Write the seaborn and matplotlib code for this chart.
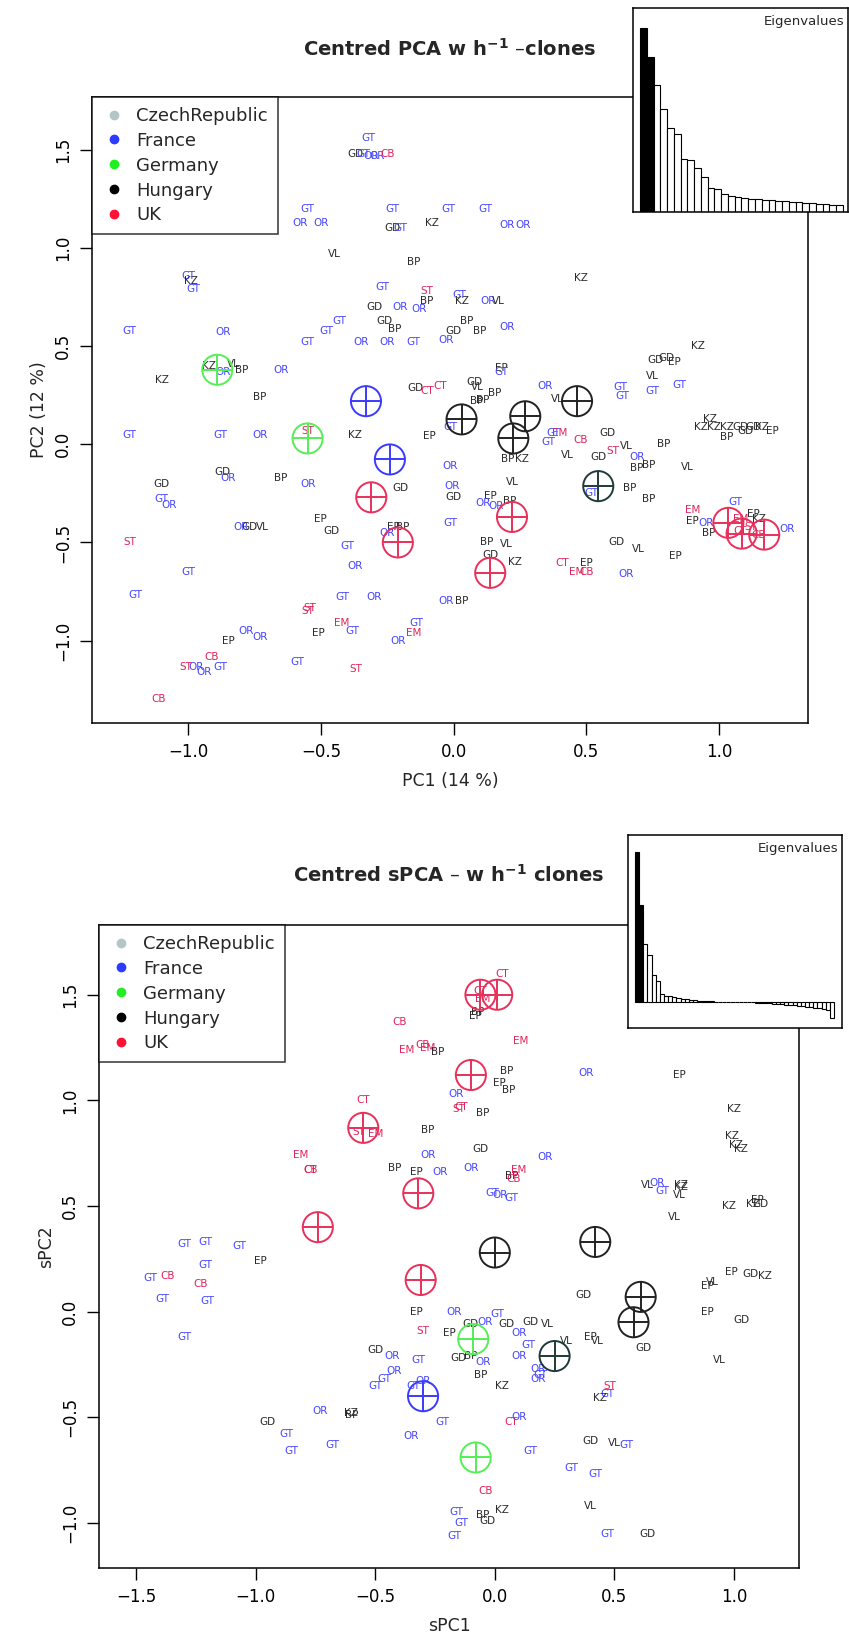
import seaborn as sns
import matplotlib.pyplot as plt
from matplotlib.lines import Line2D

# which country each sampling site belongs to
site_country = {'GT': 'France', 'OR': 'France',
                'KZ': 'Hungary', 'VL': 'Hungary', 'BP': 'Hungary', 'GD': 'Hungary', 'EP': 'Hungary',
                'CT': 'UK', 'CB': 'UK', 'EM': 'UK', 'ST': 'UK'}

countries = ['CzechRepublic', 'France', 'Germany', 'Hungary', 'UK']
legend_colors = ['#b3c6c6', '#2b3bff', '#22ee22', '#000000', '#ff1133']
label_colors = {'France': '#4646ff', 'Hungary': '#2a2a2a', 'UK': '#e0245a'}
circle_colors = {'France': '#3a3aff', 'Germany': '#55ee55', 'Hungary': '#222222',
                 'HungaryB': '#1f3a3a', 'UK': '#e8305a'}

# ---- PCA panel ----
pca_lab = ['GT', 'GD', 'GT', 'OR', 'OR', 'CB',
           'GT', 'OR', 'OR', 'GT', 'GD', 'GT', 'KZ', 'GT', 'GT', 'OR', 'OR',
           'GT', 'KZ', 'GT', 'GT', 'VL', 'BP', 'GT', 'GD', 'GT', 'GT', 'GT', 'GD', 'BP',
           'OR', 'OR', 'ST', 'BP', 'OR', 'OR', 'GT', 'OR', 'BP', 'BP', 'GD', 'KZ', 'GT',
           'OR', 'VL', 'OR', 'KZ', 'KZ', 'GD', 'GD', 'EP', 'VL', 'GT', 'GT', 'EP', 'GT',
           'OR', 'KZ', 'OR', 'VL', 'BP', 'OR', 'BP', 'KZ', 'GT', 'GT', 'OR', 'ST', 'KZ',
           'GD', 'GT', 'OR', 'ST', 'GT', 'GT', 'OR', 'GD', 'VL', 'GD', 'OR', 'BP', 'OR',
           'EP', 'GD', 'OR', 'GT', 'ST', 'GT', 'OR',
           'CB', 'CB', 'ST', 'OR', 'OR', 'GT', 'EP', 'OR', 'OR', 'EP', 'EM', 'GT', 'ST',
           'GT', 'EM', 'OR', 'GT', 'ST', 'OR', 'BP',
           'GD', 'CT', 'CT', 'GD', 'VL', 'BP', 'BP', 'BP', 'OR', 'GT', 'GT', 'VL', 'EP',
           'GT', 'GT', 'EM', 'GT', 'CB', 'GD', 'VL', 'BP', 'KZ', 'GD', 'ST', 'VL', 'OR',
           'BP', 'BP', 'BP', 'VL', 'KZ', 'KZ', 'KZ', 'KZ', 'GD', 'GD', 'KZ', 'GD', 'EP',
           'BP', 'OR', 'GD', 'OR', 'GD', 'VL', 'EP', 'BP', 'OR', 'OR', 'GT', 'BP', 'BP',
           'GT', 'EP', 'BP', 'OR', 'BP', 'VL', 'GD', 'KZ', 'GD', 'VL', 'EP', 'CT', 'EP',
           'EM', 'CB', 'OR', 'GT', 'EM', 'EP', 'OR', 'BP', 'EP', 'KZ', 'OR', 'EM', 'CT',
           'ST', 'CB']
pca_x = [-0.32, -0.37, -0.34, -0.31, -0.29, -0.25,
         -0.55, -0.58, -0.50, -0.23, -0.23, -0.20, -0.08, -0.02, 0.12, 0.20, 0.26,
         -1.00, -0.99, -0.98, -1.22, -0.45, -0.15, -0.27, -0.30, -0.43, -0.48, -0.55, -0.26, -0.22,
         -0.20, -0.13, -0.10, -0.10, -0.35, -0.25, -0.15, -0.03, 0.05, 0.10, 0.00, 0.03, 0.02,
         0.13, 0.17, 0.20, 0.48, 0.92, 0.76, 0.80, 0.83, 0.75, 0.85, 0.75, 0.18, 0.18,
         -0.87, -0.92, -0.87, -0.83, -0.80, -0.65, -0.73, -1.10, -1.22, -0.88, -0.73, -0.55, -0.37,
         -1.10, -1.10, -1.07, -1.22, -1.00, -1.20, -0.80, -0.77, -0.72, -0.87, -0.85, -0.65, -0.55,
         -0.50, -0.46, -0.37, -0.40, -0.55, -0.42, -0.30,
         -1.11, -0.91, -1.01, -0.97, -0.94, -0.88, -0.85, -0.78, -0.73, -0.51, -0.42, -0.38, -0.54,
         -0.14, -0.15, -0.21, -0.59, -0.37, -0.03, 0.03,
         -0.145, -0.10, -0.05, 0.08, 0.09, 0.156, 0.088, 0.11, 0.345, 0.627, 0.637, 0.39, -0.09,
         -0.013, 0.375, 0.40, 0.357, 0.477, 0.578, 0.427, 0.205, 0.258, 0.545, 0.60, 0.65, 0.69,
         0.79, 0.69, 0.735, 0.88, 0.966, 0.93, 0.98, 1.03, 1.08, 1.13, 1.16, 1.10, 1.20,
         1.03, -0.013, -0.20, -0.006, 0.00, 0.22, 0.138, 0.213, 0.11, 0.16, 0.52, 0.665, 0.735,
         -0.013, -0.225, -0.19, -0.25, 0.125, 0.20, 0.138, 0.23, 0.615, 0.695, 0.835, 0.41, 0.50,
         0.465, 0.50, 0.65, 1.06, 0.90, 0.90, 0.95, 0.96, 1.13, 1.15, 1.255, 1.08, 1.08,
         1.12, 1.15]
pca_y = [1.56, 1.48, 1.48, 1.47, 1.47, 1.48,
         1.20, 1.13, 1.13, 1.20, 1.10, 1.10, 1.13, 1.20, 1.20, 1.12, 1.12,
         0.86, 0.83, 0.79, 0.58, 0.97, 0.93, 0.80, 0.70, 0.63, 0.58, 0.52, 0.63, 0.59,
         0.70, 0.69, 0.78, 0.73, 0.52, 0.52, 0.52, 0.53, 0.63, 0.58, 0.58, 0.73, 0.76,
         0.73, 0.73, 0.60, 0.85, 0.50, 0.43, 0.44, 0.42, 0.35, 0.30, 0.27, 0.39, 0.37,
         0.57, 0.40, 0.37, 0.41, 0.38, 0.38, 0.24, 0.33, 0.05, 0.05, 0.05, 0.07, 0.05,
         -0.20, -0.28, -0.31, -0.50, -0.65, -0.77, -0.42, -0.42, -0.42, -0.14, -0.17, -0.17, -0.20,
         -0.38, -0.44, -0.62, -0.52, -0.85, -0.78, -0.78,
         -1.30, -1.085, -1.135, -1.135, -1.16, -1.135, -1.00, -0.95, -0.98, -0.96, -0.91, -0.95, -0.835,
         -0.91, -0.96, -1.00, -1.11, -1.145, -0.80, -0.80,
         0.285, 0.27, 0.295, 0.32, 0.29, 0.264, 0.22, 0.225, 0.295, 0.29, 0.245, 0.23, 0.04,
         0.087, 0.06, 0.056, 0.01, 0.02, 0.056, -0.056, -0.073, -0.076, -0.066, -0.035, -0.01, -0.066,
         0.00, -0.123, -0.107, -0.117, 0.127, 0.09, 0.09, 0.09, 0.09, 0.09, 0.09, 0.066, 0.066,
         0.035, -0.112, -0.22, -0.214, -0.27, -0.19, -0.265, -0.29, -0.30, -0.315, -0.25, -0.22, -0.28,
         -0.40, -0.42, -0.42, -0.45, -0.50, -0.51, -0.565, -0.60, -0.50, -0.535, -0.57, -0.605, -0.605,
         -0.65, -0.65, -0.66, -0.295, -0.336, -0.39, -0.40, -0.45, -0.357, -0.38, -0.43, -0.38, -0.44,
         -0.42, -0.46]

pca_cent_x = [-0.33, -0.24, -0.89, -0.55, 0.03, 0.225, 0.27, 0.465, 0.545,
              -0.31, -0.21, 0.22, 0.138, 1.035, 1.085, 1.17]
pca_cent_y = [0.22, -0.077, 0.38, 0.03, 0.127, 0.03, 0.143, 0.22, -0.213,
              -0.27, -0.50, -0.37, -0.655, -0.40, -0.455, -0.46]
pca_cent_grp = ['France', 'France', 'Germany', 'Germany', 'Hungary', 'Hungary', 'Hungary', 'Hungary',
                'HungaryB', 'UK', 'UK', 'UK', 'UK', 'UK', 'UK', 'UK']

pca_eig = [550, 463, 380, 308, 250, 233, 157, 155, 132, 105, 73, 70, 55, 48, 45, 42, 40, 38,
           36, 35, 33, 32, 31, 30, 28, 27, 25, 24, 22, 20]

# ---- sPCA panel ----
spca_lab = ['CT', 'CT', 'EM', 'BP', 'EP', 'CB', 'EM', 'CB', 'EM', 'BP', 'EM', 'OR', 'BP',
            'EP', 'BP', 'CT', 'OR', 'CT', 'ST', 'BP', 'ST', 'EM', 'BP', 'OR', 'GD', 'OR',
            'EM', 'CB', 'CT', 'BP', 'EP', 'OR', 'OR', 'BP', 'EM', 'CB', 'OR', 'GT', 'GT',
            'GT', 'GT', 'CB', 'GT', 'GT', 'GT', 'CB', 'GT', 'EP', 'GT', 'GT', 'EP', 'OR',
            'ST', 'EP', 'GD', 'GD', 'OR', 'GT', 'OR', 'GD', 'VL', 'GD', 'EP', 'VL', 'GD',
            'OR', 'GD', 'OR', 'GT', 'OR', 'GT', 'GD', 'BP', 'OR', 'OR', 'GT', 'OR', 'BP',
            'GT', 'KZ', 'OR', 'VL', 'ST', 'GT', 'KZ', 'GT', 'GT', 'GD', 'BP', 'GT', 'OR',
            'GT', 'GT', 'OR', 'KZ', 'GT', 'CT', 'OR', 'GD', 'GT', 'VL', 'GT', 'GT', 'GT',
            'CB', 'BP', 'KZ', 'GD', 'GT', 'GT', 'VL', 'GT', 'GT', 'GD',
            'EP', 'VL', 'OR', 'GT', 'KZ', 'KZ', 'KZ', 'KZ', 'GD', 'VL', 'EP', 'VL', 'KZ',
            'KZ', 'EP', 'VL', 'GD', 'KZ', 'EP', 'EP', 'KZ', 'KZ', 'VL', 'GD']
spca_x = [0.03, -0.06, -0.05, -0.07, -0.08, -0.4, -0.37, -0.3, 0.11, -0.24, -0.28, 0.38, 0.05,
          0.02, 0.06, -0.55, -0.16, -0.14, -0.15, -0.05, -0.57, -0.5, -0.28, -0.28, -0.06, 0.21,
          -0.81, -0.77, -0.77, -0.42, -0.33, -0.23, -0.1, 0.07, 0.1, 0.08, 0.02, 0.07, -0.01,
          -1.3, -1.21, -1.23, -1.07, -1.21, -1.2, -1.37, -1.44, -0.98, -1.39, -1.3, -0.33, -0.17,
          -0.3, -0.19, -0.1, 0.05, -0.04, 0.01, 0.1, 0.15, 0.22, 0.37, 0.4, 0.3, 0.62,
          -0.43, -0.5, -0.42, -0.46, -0.3, -0.32, -0.15, -0.1, -0.05, 0.1, 0.14, 0.18, -0.06,
          0.19, 0.03, 0.18, 0.43, 0.48, 0.47, 0.44, -0.34, -0.5, -0.95, -0.6, -0.87, -0.73,
          -0.68, -0.85, -0.35, -0.6, -0.22, 0.07, 0.1, 0.4, 0.15, 0.5, 0.32, 0.42, 0.55,
          -0.04, -0.05, 0.03, -0.03, -0.16, -0.14, 0.4, 0.47, -0.17, 0.64,
          0.77, 0.64, 0.68, 0.7, 1.0, 1.01, 0.99, 1.03, 1.11, 0.77, 1.1, 0.75, 0.78,
          0.78, 0.99, 0.91, 1.07, 1.13, 0.89, 0.89, 0.98, 1.08, 0.94, 1.03]
spca_y = [1.6, 1.52, 1.48, 1.42, 1.4, 1.37, 1.24, 1.26, 1.28, 1.23, 1.25, 1.13, 1.14,
          1.08, 1.05, 1.0, 1.03, 0.97, 0.96, 0.94, 0.85, 0.84, 0.86, 0.74, 0.77, 0.73,
          0.74, 0.67, 0.67, 0.68, 0.66, 0.66, 0.68, 0.64, 0.67, 0.63, 0.55, 0.54, 0.56,
          0.32, 0.33, 0.13, 0.31, 0.22, 0.05, 0.17, 0.16, 0.24, 0.06, -0.12, 0.0, 0.0,
          -0.09, -0.1, -0.06, -0.06, -0.05, -0.01, -0.1, -0.05, -0.06, 0.08, -0.12, -0.14, -0.17,
          -0.21, -0.18, -0.28, -0.32, -0.33, -0.23, -0.22, -0.21, -0.24, -0.21, -0.16, -0.27, -0.3,
          -0.3, -0.35, -0.32, -0.14, -0.35, -0.39, -0.41, -0.35, -0.35, -0.52, -0.49, -0.58, -0.47,
          -0.63, -0.66, -0.59, -0.48, -0.52, -0.52, -0.5, -0.61, -0.66, -0.62, -0.74, -0.77, -0.63,
          -0.85, -0.96, -0.94, -0.99, -0.95, -1.0, -0.92, -1.05, -1.06, -1.05,
          1.12, 0.6, 0.61, 0.57, 0.96, 0.79, 0.83, 0.77, 0.51, 0.55, 0.53, 0.45, 0.6,
          0.59, 0.19, 0.14, 0.18, 0.17, 0.12, 0.0, 0.5, 0.51, -0.23, -0.04]

spca_cent_x = [-0.06, 0.01, -0.1, -0.55, -0.32, -0.74, -0.31,
               0.0, 0.42, 0.61, 0.58, 0.25, -0.09, -0.08, -0.3]
spca_cent_y = [1.5, 1.5, 1.12, 0.87, 0.56, 0.4, 0.15,
               0.28, 0.33, 0.07, -0.05, -0.21, -0.13, -0.69, -0.4]
spca_cent_grp = ['UK', 'UK', 'UK', 'UK', 'UK', 'UK', 'UK',
                 'Hungary', 'Hungary', 'Hungary', 'Hungary', 'HungaryB', 'Germany', 'Germany', 'France']

spca_eig = [150, 97, 58, 47, 27, 21, 8, 6.5, 6, 5, 4.5, 3.5, 3, 2.5, 2, 1.5, 1.2, 0.9, 0.6,
            0.4, 0.3, 0.2, 0.1, 0.05, 0.0, -0.05, -0.1, -0.2, -0.3, -0.5, -0.8, -1.0, -1.3,
            -1.6, -2.0, -2.3, -2.6, -3.0, -3.4, -3.8, -4.2, -4.6, -5.0, -5.5, -6.0, -7.0, -8.0, -16]

sns.set_theme(style='ticks')
plt.rcParams['font.family'] = ['DejaVu Sans']

fig = plt.figure(figsize=(8.49, 16.38), dpi=100)


def draw_panel(rect, xs, ys, labs, cx, cy, cg, xlim, ylim, xticks, yticks, xlabel, ylabel):
    ax = fig.add_axes(rect)
    for x, y, lab in zip(xs, ys, labs):
        ax.text(x, y, lab, color=label_colors[site_country.get(lab, 'UK')], fontsize=7.5,
                ha='center', va='center', zorder=2)
    sns.scatterplot(x=cx, y=cy, hue=cg, palette=circle_colors, s=470, legend=False, ax=ax, zorder=3)
    coll = ax.collections[-1]
    coll.set_edgecolors(coll.get_facecolors())
    coll.set_facecolors('none')
    coll.set_linewidth(1.4)
    sns.scatterplot(x=cx, y=cy, hue=cg, palette=circle_colors, s=470, marker='+', linewidth=1.4,
                    legend=False, ax=ax, zorder=3)
    ax.set_xlim(*xlim)
    ax.set_ylim(*ylim)
    ax.set_xticks(xticks)
    ax.set_yticks(yticks)
    ax.set_xticklabels([f'{t:.1f}'.replace('-', '\u2212') for t in xticks])
    ax.set_yticklabels([f'{t:.1f}'.replace('-', '\u2212') for t in yticks], rotation=90, va='center')
    ax.tick_params(direction='out', length=8.5, width=1, labelsize=12, pad=6, colors='black')
    ax.set_xlabel(xlabel, fontsize=12.5, labelpad=8)
    ax.set_ylabel(ylabel, fontsize=12.5, labelpad=4)
    for s in ax.spines.values():
        s.set_visible(True)
        s.set_linewidth(1.1)
        s.set_color('black')
    handles = [Line2D([], [], marker='o', ls='none', color=c, markersize=6) for c in legend_colors]
    leg = ax.legend(handles, countries, loc='upper left', borderaxespad=0, frameon=True,
                    fancybox=False, fontsize=13, handletextpad=0.6, labelspacing=0.38,
                    borderpad=0.55, handlelength=1.3)
    leg.get_frame().set_edgecolor('black')
    leg.get_frame().set_linewidth(1.1)
    leg.set_zorder(5)
    return ax


def draw_eig(rect, vals, nblack, xl, yl):
    ins = fig.add_axes(rect, zorder=10)
    idx = list(range(len(vals)))
    cols = ['black' if i < nblack else 'white' for i in idx]
    sns.barplot(x=idx, y=vals, hue=idx, palette=cols, legend=False, width=1.0,
                edgecolor='black', linewidth=0.8, ax=ins, native_scale=True)
    ins.set_xlim(*xl)
    ins.set_ylim(*yl)
    ins.set_xticks([])
    ins.set_yticks([])
    ins.set_xlabel('')
    ins.set_ylabel('')
    ins.set_facecolor('white')
    for s in ins.spines.values():
        s.set_visible(True)
        s.set_linewidth(1.1)
        s.set_color('black')
    ins.text(0.985, 0.965, 'Eigenvalues', transform=ins.transAxes, ha='right', va='top', fontsize=9.5)


draw_panel([92 / 849, 1 - 723 / 1638, 716 / 849, 626 / 1638], pca_x, pca_y, pca_lab,
           pca_cent_x, pca_cent_y, pca_cent_grp, (-1.362, 1.335), (-1.42, 1.77),
           [-1.0, -0.5, 0.0, 0.5, 1.0], [-1.0, -0.5, 0.0, 0.5, 1.0, 1.5],
           'PC1 (14 %)', 'PC2 (12 %)')
draw_panel([99 / 849, 1 - 1568 / 1638, 700 / 849, 643 / 1638], spca_x, spca_y, spca_lab,
           spca_cent_x, spca_cent_y, spca_cent_grp, (-1.655, 1.272), (-1.213, 1.83),
           [-1.5, -1.0, -0.5, 0.0, 0.5, 1.0], [-1.0, -0.5, 0.0, 0.5, 1.0, 1.5],
           'sPC1', 'sPC2')

draw_eig([633 / 849, 1 - 212 / 1638, 215 / 849, 204 / 1638], pca_eig, 2, (-1.53, 30.24), (0, 610))
draw_eig([628 / 849, 1 - 1028 / 1638, 214 / 849, 193 / 1638], spca_eig, 2, (-2.19, 49.43), (-26, 167))

fig.text(450 / 849, 1 - 49 / 1638, 'Centred PCA w h$^{\\mathbf{-1}}$ \u2013clones', ha='center', va='center',
         fontsize=14, fontweight='bold')
fig.text(449 / 849, 1 - 875 / 1638, 'Centred sPCA \u2013 w h$^{\\mathbf{-1}}$ clones', ha='center', va='center',
         fontsize=14, fontweight='bold')

fig.savefig('out.png', dpi=100)
